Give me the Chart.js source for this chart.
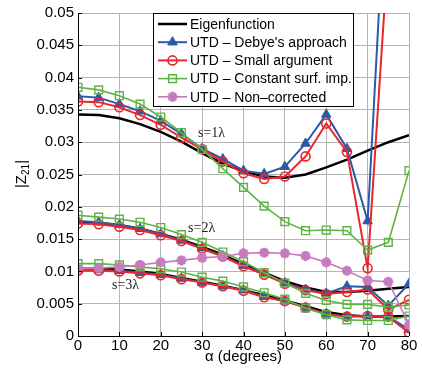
<!DOCTYPE html>
<html>
<head>
<meta charset="utf-8">
<script src="https://cdn.jsdelivr.net/npm/chart.js@4/dist/chart.umd.min.js"></script>
<style>
  html, body { margin: 0; padding: 0; background: #fff; }
  #wrap { width: 422px; height: 376px; position: relative; }
</style>
</head>
<body>
<div id="wrap"><canvas id="graficoZ21"></canvas></div>
<script>
// =========================
// DATA
// =========================

const angles = [0, 5, 10, 15, 20, 25, 30, 35, 40, 45, 50, 55, 60, 65, 70, 75, 80];

const xTickLabels = ['0', '10', '20', '30', '40', '50', '60', '70', '80'];
const yTickLabels = ['0', '0.005', '0.01', '0.015', '0.02', '0.025', '0.03', '0.035', '0.04', '0.045', '0.05'];

const seriesNames = ['Eigenfunction', "UTD \u2013 Debye's approach", 'UTD \u2013 Small argument',
                     'UTD \u2013 Constant surf. imp.', 'UTD \u2013 Non\u2013corrected'];

// s = 1 lambda
const eigenS1    = [0.0343, 0.0342, 0.0337, 0.0328, 0.0316, 0.0301, 0.0283, 0.0267, 0.0255, 0.0247, 0.0245, 0.0250, 0.0261, 0.0273, 0.0287, 0.0300, 0.0311];
const debyeS1    = [0.0371, 0.0369, 0.0359, 0.0348, 0.0333, 0.0313, 0.0290, 0.0274, 0.0256, 0.0251, 0.0262, 0.0298, 0.0343, 0.0290, 0.0178, 0.0770, 0.1200];
const smallS1    = [0.0363, 0.0362, 0.0354, 0.0342, 0.0327, 0.0307, 0.0289, 0.0270, 0.0252, 0.0243, 0.0247, 0.0278, 0.0329, 0.0285, 0.0105, 0.0600, 0.1000];
const constantS1 = [0.0385, 0.0381, 0.0372, 0.0359, 0.0339, 0.0315, 0.0289, 0.0259, 0.0230, 0.0201, 0.0177, 0.0163, 0.0164, 0.0163, 0.0133, 0.0145, 0.0256];

// s = 2 lambda
const eigenS2    = [0.0177, 0.0175, 0.0172, 0.0166, 0.0158, 0.0149, 0.0138, 0.0126, 0.0111, 0.0098, 0.0085, 0.0075, 0.0068, 0.0068, 0.0070, 0.0073, 0.0076];
const debyeS2    = [0.0178, 0.0176, 0.0172, 0.0166, 0.0158, 0.0148, 0.0136, 0.0124, 0.0109, 0.0096, 0.0082, 0.0072, 0.0066, 0.0077, 0.0076, 0.0047, 0.0081];
const smallS2    = [0.0174, 0.0173, 0.0169, 0.0164, 0.0156, 0.0147, 0.0135, 0.0123, 0.0108, 0.0095, 0.0081, 0.0071, 0.0065, 0.0068, 0.0072, 0.0041, 0.0056];
const constantS2 = [0.0187, 0.0184, 0.0181, 0.0176, 0.0168, 0.0157, 0.0145, 0.0130, 0.0115, 0.0098, 0.0082, 0.0066, 0.0055, 0.0049, 0.0049, 0.0045, 0.0048];

// s = 3 lambda
const eigenS3    = [0.0104, 0.0104, 0.0103, 0.0100, 0.0096, 0.0090, 0.0084, 0.0078, 0.0071, 0.0063, 0.0055, 0.0046, 0.0037, 0.0032, 0.0030, 0.0030, 0.0031];
const debyeS3    = [0.0102, 0.0102, 0.0101, 0.0098, 0.0095, 0.0089, 0.0083, 0.0077, 0.0071, 0.0061, 0.0054, 0.0044, 0.0034, 0.0030, 0.0031, 0.0030, 0.0010];
const smallS3    = [0.0101, 0.0101, 0.0100, 0.0097, 0.0094, 0.0088, 0.0083, 0.0077, 0.0070, 0.0060, 0.0054, 0.0044, 0.0034, 0.0030, 0.0031, 0.0030, 0.0005];
const constantS3 = [0.0112, 0.0112, 0.0110, 0.0107, 0.0104, 0.0099, 0.0091, 0.0085, 0.0076, 0.0067, 0.0057, 0.0043, 0.0033, 0.0025, 0.0024, 0.0024, 0.0031];

const nonCorrected = [0.0104, 0.0105, 0.0107, 0.0110, 0.0114, 0.0117, 0.0121, 0.0123, 0.0128, 0.0129, 0.0128, 0.0124, 0.0114, 0.0101, 0.0086, 0.0084, 0.0017];

// curve labels: [text, angle, value]
const curveLabels = [['s=1\u03bb', 29, 0.0313], ['s=2\u03bb', 26.6, 0.0167], ['s=3\u03bb', 8.2, 0.0078]];


// =========================
// STYLES
// =========================

const FONT = '"Liberation Sans", Arial, Helvetica, sans-serif';

const estilos = {
    eigen:    { borderColor: '#000000', borderWidth: 2.5, pointRadius: 0, pointStyle: false },
    debye:    { borderColor: '#2c5aa8', backgroundColor: '#2c5aa8', borderWidth: 2, pointStyle: 'triangle', pointRadius: 5.5, pointBorderWidth: 1 },
    small:    { borderColor: '#e8262d', backgroundColor: 'rgba(0,0,0,0)', borderWidth: 2, pointStyle: 'circle', pointRadius: 4.5, pointBorderWidth: 1.6 },
    constant: { borderColor: '#5fb346', backgroundColor: 'rgba(0,0,0,0)', borderWidth: 1.6, pointStyle: 'rect', pointRadius: 5.5, pointBorderWidth: 1.4 },
    non:      { borderColor: '#c77bbd', backgroundColor: '#c77bbd', borderWidth: 1.6, pointStyle: 'star', pointRadius: 5, pointBorderWidth: 3 }
};

function serie(values, estilo) {
    return Object.assign({
        data: values.map((v, i) => ({ x: angles[i], y: v })),
        tension: 0,
        fill: false
    }, estilo);
}

const datasets = [
    serie(eigenS1, estilos.eigen), serie(eigenS2, estilos.eigen), serie(eigenS3, estilos.eigen),
    serie(debyeS1, estilos.debye), serie(debyeS2, estilos.debye), serie(debyeS3, estilos.debye),
    serie(smallS1, estilos.small), serie(smallS2, estilos.small), serie(smallS3, estilos.small),
    serie(constantS1, estilos.constant), serie(constantS2, estilos.constant), serie(constantS3, estilos.constant),
    serie(nonCorrected, estilos.non)
];
// later datasets on top, like MATLAB
datasets.forEach((d, i) => { d.order = datasets.length - i; });


// =========================
// PLUGIN: legend, titles, labels
// =========================

const extras = {
    id: 'extras',
    afterDraw(chart) {
        const ctx = chart.ctx;
        const xs = chart.scales.x, ys = chart.scales.y;
        const area = chart.chartArea;

        // axis lines + inward ticks
        ctx.save();
        ctx.strokeStyle = '#000';
        ctx.lineWidth = 1;
        ctx.beginPath();
        ctx.moveTo(area.left + 0.5, area.top);
        ctx.lineTo(area.left + 0.5, area.bottom + 0.5);
        ctx.lineTo(area.right, area.bottom + 0.5);
        xTickLabels.forEach(t => {
            const px = Math.round(xs.getPixelForValue(Number(t))) + 0.5;
            ctx.moveTo(px, area.bottom);
            ctx.lineTo(px, area.bottom - 4);
        });
        yTickLabels.forEach(t => {
            const py = Math.round(ys.getPixelForValue(Number(t))) + 0.5;
            ctx.moveTo(area.left, py);
            ctx.lineTo(area.left + 4, py);
        });
        ctx.stroke();

        // curve labels
        ctx.fillStyle = '#222';
        ctx.font = '14px "Liberation Serif", "Times New Roman", serif';
        ctx.textAlign = 'left';
        ctx.textBaseline = 'middle';
        curveLabels.forEach(([txt, a, v]) => {
            ctx.fillText(txt, xs.getPixelForValue(a), ys.getPixelForValue(v));
        });

        // x title
        ctx.fillStyle = '#000';
        ctx.font = '15px ' + FONT;
        ctx.textAlign = 'center';
        ctx.fillText('\u03b1 (degrees)', (area.left + area.right) / 2, 357);

        // y title |Z21|
        ctx.save();
        ctx.translate(22, 174);
        ctx.rotate(-Math.PI / 2);
        ctx.textAlign = 'left';
        const w1 = ctx.measureText('|Z').width;
        ctx.font = '10px ' + FONT;
        const w2 = ctx.measureText('21').width;
        ctx.font = '15px ' + FONT;
        const w3 = ctx.measureText('|').width;
        const x0 = -(w1 + w2 + w3) / 2;
        ctx.fillText('|Z', x0, 0);
        ctx.font = '10px ' + FONT;
        ctx.fillText('21', x0 + w1, 4);
        ctx.font = '15px ' + FONT;
        ctx.fillText('|', x0 + w1 + w2, 0);
        ctx.restore();

        // legend box
        const lx = 153, ly = 13, lw = 200, lh = 93;
        ctx.fillStyle = '#fff';
        ctx.fillRect(lx, ly, lw, lh);
        ctx.strokeStyle = '#000';
        ctx.lineWidth = 1;
        ctx.strokeRect(lx + 0.5, ly + 0.5, lw, lh);
        const legendStyles = [estilos.eigen, estilos.debye, estilos.small, estilos.constant, estilos.non];
        ctx.font = '14px ' + FONT;
        ctx.textAlign = 'left';
        ctx.textBaseline = 'middle';
        seriesNames.forEach((name, i) => {
            const st = legendStyles[i];
            const y = 24 + i * 18.2;
            ctx.strokeStyle = st.borderColor;
            ctx.lineWidth = st.borderWidth;
            ctx.beginPath();
            ctx.moveTo(158, y);
            ctx.lineTo(187, y);
            ctx.stroke();
            if (st.pointStyle) {
                ctx.fillStyle = st.backgroundColor;
                ctx.strokeStyle = st.borderColor;
                ctx.lineWidth = st.pointBorderWidth;
                Chart.helpers.drawPoint(ctx, {
                    pointStyle: st.pointStyle,
                    radius: st.pointRadius,
                    rotation: 0,
                    borderWidth: st.pointBorderWidth
                }, 172.5, y);
            }
            ctx.fillStyle = '#000';
            ctx.fillText(name, 190, y + 1);
        });
        ctx.restore();
    }
};


// =========================
// GRÁFICO
// =========================

const canvas = document.getElementById('graficoZ21');

if (canvas) {

    const ctx = canvas.getContext('2d');

    new Chart(ctx, {
        type: 'line',
        data: { datasets: datasets },
        options: {
            responsive: true,
            maintainAspectRatio: false,
            animation: false,
            events: [],
            layout: { padding: { top: 10, right: 13, left: 0, bottom: 0 } },
            scales: {
                x: {
                    type: 'linear',
                    min: 0,
                    max: 80,
                    border: { display: false },
                    grid: { color: '#b5b5b5', borderDash: [1, 3], drawTicks: false, tickLength: 0 },
                    ticks: {
                        stepSize: 10,
                        padding: 1,
                        color: '#000',
                        font: { family: FONT, size: 15 },
                        callback: (value) => xTickLabels[Math.round(value / 10)]
                    },
                    afterFit: (scale) => { scale.height = 40; }
                },
                y: {
                    min: 0,
                    max: 0.05,
                    border: { display: false },
                    grid: { color: '#b5b5b5', borderDash: [1, 3], drawTicks: false, tickLength: 0 },
                    ticks: {
                        stepSize: 0.005,
                        padding: 4,
                        color: '#000',
                        font: { family: FONT, size: 15 },
                        callback: (value) => yTickLabels[Math.round(value / 0.005)]
                    },
                    afterFit: (scale) => { scale.width = 78; }
                }
            },
            plugins: {
                legend: { display: false },
                tooltip: { enabled: false }
            }
        },
        plugins: [extras]
    });
}
</script>
</body>
</html>
